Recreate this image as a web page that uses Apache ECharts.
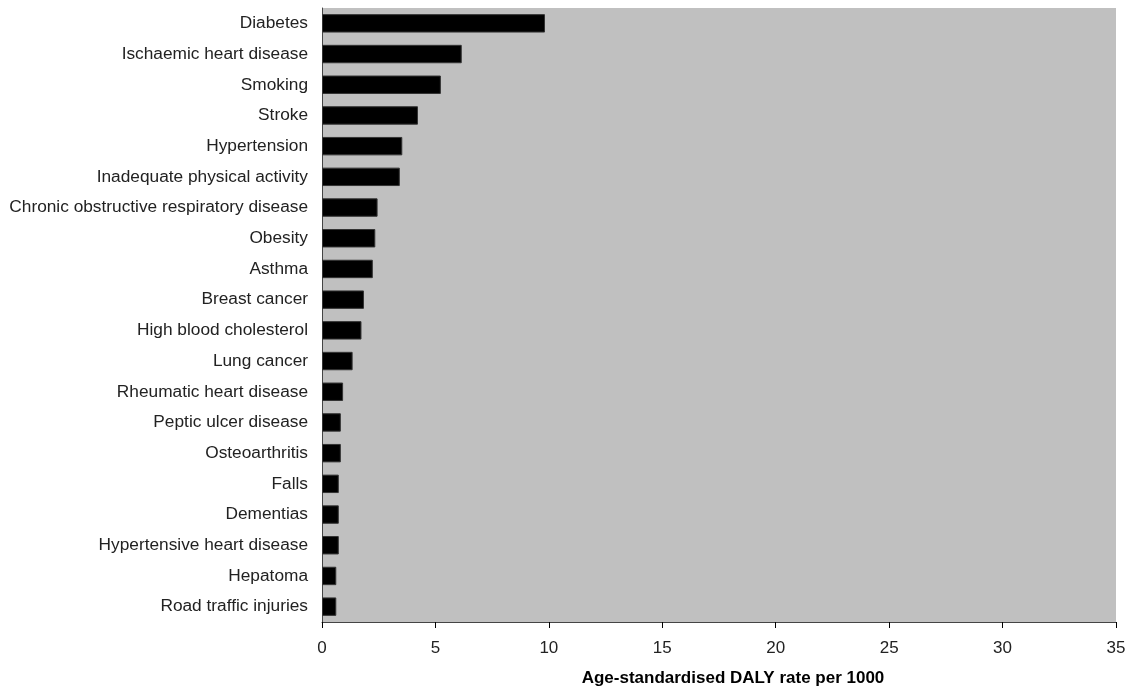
<!DOCTYPE html>
<html><head><meta charset="utf-8">
<script src="https://cdn.jsdelivr.net/npm/echarts@6/dist/echarts.min.js"></script>
<style>html,body{margin:0;padding:0;background:#fff}#c{width:1137px;height:690px}</style>
</head><body><div id="c"></div>
<script>
const categories = ["Diabetes","Ischaemic heart disease","Smoking","Stroke","Hypertension","Inadequate physical activity","Chronic obstructive respiratory disease","Obesity","Asthma","Breast cancer","High blood cholesterol","Lung cancer","Rheumatic heart disease","Peptic ulcer disease","Osteoarthritis","Falls","Dementias","Hypertensive heart disease","Hepatoma","Road traffic injuries"];
const values = [9.83,6.16,5.24,4.23,3.54,3.43,2.45,2.35,2.24,1.85,1.74,1.35,0.93,0.83,0.83,0.74,0.74,0.74,0.63,0.63];
const xTicks = [0,5,10,15,20,25,30,35];
const axisTitle = "Age-standardised DALY rate per 1000";

const chart = echarts.init(document.getElementById('c'));
chart.setOption({
  animation:false,
  grid:{left:322,right:21,top:8,bottom:68,show:true,backgroundColor:'#C0C0C0',borderWidth:0,outerBoundsMode:'none',containLabel:false},
  xAxis:{type:'value',min:xTicks[0],max:xTicks[xTicks.length-1],interval:5,
    name:axisTitle,nameLocation:'middle',nameGap:48,
    nameTextStyle:{fontFamily:'Liberation Sans',fontSize:17,fontWeight:'bold',color:'#000',padding:[0,0,0,28]},
    axisLine:{show:true,lineStyle:{color:'#444',width:1}},
    axisTick:{show:true,length:6,lineStyle:{color:'#000'}},
    axisLabel:{fontFamily:'Liberation Sans',fontSize:17,color:'#222',margin:18},
    splitLine:{show:false}},
  yAxis:{type:'category',data:categories,inverse:true,
    axisLine:{show:true,lineStyle:{color:'#444',width:1}},
    axisTick:{show:false},
    axisLabel:{fontFamily:'Liberation Sans',fontSize:17.3,color:'#222',margin:14}},
  series:[{type:'bar',data:values,barCategoryGap:'40%',
    itemStyle:{color:'#000',borderColor:'#333',borderWidth:1}}]
});
</script></body></html>
